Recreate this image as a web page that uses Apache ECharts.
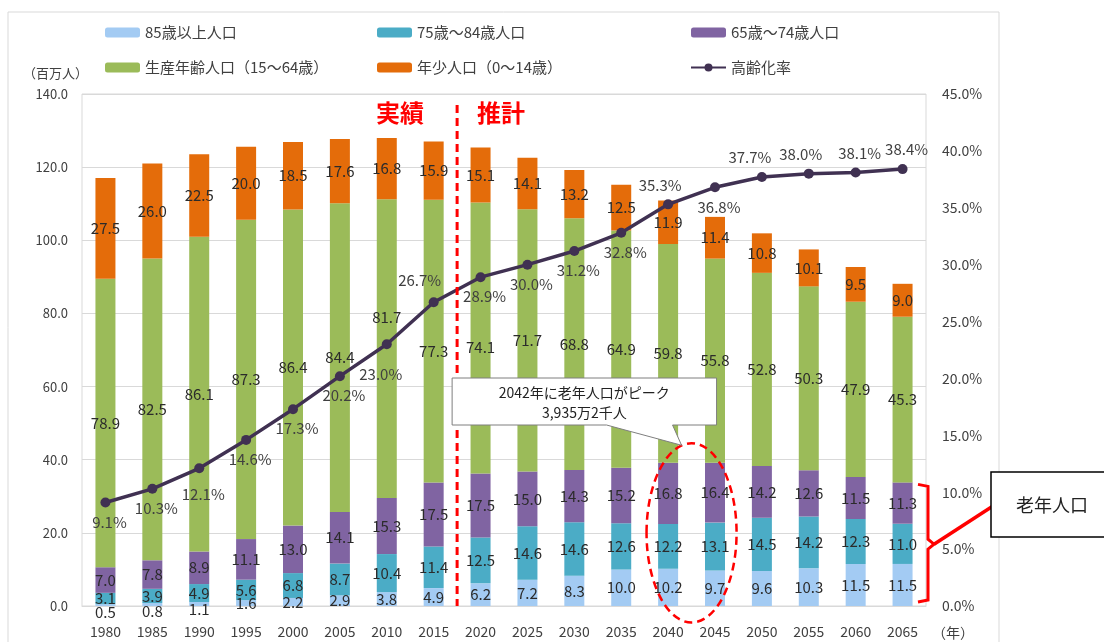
<!DOCTYPE html>
<html>
<head>
<meta charset="utf-8">
<script src="https://cdn.jsdelivr.net/npm/echarts@6/dist/echarts.min.js"></script>
<style>
  html, body { margin: 0; padding: 0; background: #fff; }
  #chart { width: 1104px; height: 642px; }
</style>
</head>
<body>
<div id="chart"></div>
<script>
const years = ['1980', '1985', '1990', '1995', '2000', '2005', '2010', '2015', '2020',
  '2025', '2030', '2035', '2040', '2045', '2050', '2055', '2060', '2065']
const pop85 = [0.5, 0.8, 1.1, 1.6, 2.2, 2.9, 3.8, 4.9, 6.2, 7.2, 8.3, 10.0, 10.2, 9.7, 9.6, 10.3, 11.5, 11.5]
const pop75 = [3.1, 3.9, 4.9, 5.6, 6.8, 8.7, 10.4, 11.4, 12.5, 14.6, 14.6, 12.6, 12.2, 13.1, 14.5, 14.2, 12.3, 11.0]
const pop65 = [7.0, 7.8, 8.9, 11.1, 13.0, 14.1, 15.3, 17.5, 17.5, 15.0, 14.3, 15.2, 16.8, 16.4, 14.2, 12.6, 11.5, 11.3]
const popWork = [78.9, 82.5, 86.1, 87.3, 86.4, 84.4, 81.7, 77.3, 74.1, 71.7, 68.8, 64.9, 59.8, 55.8, 52.8, 50.3, 47.9, 45.3]
const popYoung = [27.5, 26.0, 22.5, 20.0, 18.5, 17.6, 16.8, 15.9, 15.1, 14.1, 13.2, 12.5, 11.9, 11.4, 10.8, 10.1, 9.5, 9.0]
const agingRate = [9.1, 10.3, 12.1, 14.6, 17.3, 20.2, 23.0, 26.7, 28.9, 30.0, 31.2, 32.8, 35.3, 36.8, 37.7, 38.0, 38.1, 38.4]

// label placement tweaks (moved by hand in the original to dodge the line)
const ratePos = ['bottom', 'bottom', 'bottom', 'bottom', 'bottom', 'bottom', 'bottom', 'top', 'bottom',
  'bottom', 'bottom', 'bottom', 'top', 'bottom', 'top', 'top', 'top', 'top']
const rateOffset = { 2: [4, 6], 6: [-6, 10], 7: [-14, -2], 12: [-8, 0], 14: [-12, 0], 15: [-8, 0] }
const workOffset = { 6: [0, -31], 7: [0, 10], 8: [0, 9] }

const FONT = '"Noto Sans CJK JP", "Noto Sans", sans-serif'
const textColor = '#404040'

const chart = echarts.init(document.getElementById('chart'))

function withOffsets(data, offsets) {
  return data.map((v, i) => (offsets[i] ? { value: v, label: { offset: offsets[i] } } : v))
}

function barSeries(name, data, color) {
  return {
    type: 'bar',
    name,
    stack: 'pop',
    barWidth: 20,
    data,
    itemStyle: { color },
    label: {
      show: true,
      position: 'inside',
      color: '#2b2b2b',
      fontSize: 15,
      fontFamily: FONT,
      formatter: (p) => p.value.toFixed(1)
    }
  }
}

const legendBase = {
  orient: 'vertical',
  top: 20,
  itemGap: 20,
  itemWidth: 35,
  itemHeight: 10,
  textStyle: { color: textColor, fontSize: 15, fontFamily: FONT }
}

const option = {
  animation: false,
  textStyle: { fontFamily: FONT },
  legend: [
    { ...legendBase, left: 100, data: ['85歳以上人口', '生産年齢人口（15～64歳）'] },
    { ...legendBase, left: 372, data: ['75歳～84歳人口', '年少人口（0～14歳）'] },
    { ...legendBase, left: 685, data: ['65歳～74歳人口', '高齢化率'] }
  ],
  grid: { left: 82, right: 178, top: 94, bottom: 36, show: true, borderColor: '#d9d9d9', borderWidth: 1 },
  xAxis: {
    type: 'category',
    data: years,
    axisLine: { lineStyle: { color: '#d9d9d9' } },
    axisTick: { show: false },
    axisLabel: { color: textColor, fontSize: 14, margin: 19 }
  },
  yAxis: [
    {
      type: 'value',
      min: 0,
      max: 140,
      interval: 20,
      name: '（百万人）',
      nameLocation: 'end',
      nameGap: 14,
      nameTextStyle: { color: textColor, fontSize: 13, align: 'right', padding: [0, -6, 0, 0] },
      axisLabel: { color: textColor, fontSize: 13, margin: 14, formatter: (v) => v.toFixed(1) },
      splitLine: { lineStyle: { color: '#d9d9d9' } }
    },
    {
      type: 'value',
      min: 0,
      max: 45,
      interval: 5,
      position: 'right',
      axisLabel: { color: textColor, fontSize: 14, margin: 16, formatter: (v) => v.toFixed(1) + '%' },
      splitLine: { show: false }
    }
  ],
  series: [
    barSeries('85歳以上人口', withOffsets(pop85, { 0: [0, 7], 1: [0, 7], 2: [0, 5] }), '#a3cbf3'),
    barSeries('75歳～84歳人口', pop75, '#4bacc6'),
    barSeries('65歳～74歳人口', pop65, '#8064a2'),
    barSeries('生産年齢人口（15～64歳）', withOffsets(popWork, workOffset), '#9bbb59'),
    barSeries('年少人口（0～14歳）', popYoung, '#e46c0a'),
    {
      type: 'line',
      name: '高齢化率',
      yAxisIndex: 1,
      z: 5,
      symbol: 'circle',
      symbolSize: 10,
      lineStyle: { width: 3.5, color: '#403152' },
      itemStyle: { color: '#403152' },
      data: agingRate.map((v, i) => ({
        value: v,
        label: { position: ratePos[i], offset: rateOffset[i] || [4, 0] }
      })),
      label: {
        show: true,
        color: textColor,
        fontSize: 15,
        fontFamily: FONT,
        distance: 7,
        formatter: (p) => p.value.toFixed(1) + '%'
      }
    }
  ]
}

chart.setOption(option)

// annotations placed from the chart's own scales
function px(i, v) {
  return chart.convertToPixel({ xAxisIndex: 0, yAxisIndex: 0 }, [i, v])
}
const band = px(1, 0)[0] - px(0, 0)[0]
const splitX = (px(7, 0)[0] + px(8, 0)[0]) / 2
const [, y0] = px(0, 0)
const [, yTop] = px(0, 137)
const peakX = (px(12, 0)[0] + px(13, 0)[0]) / 2
const [, peakY] = px(0, 20)
const peakRy = y0 - px(0, 24.5)[1]
const lastX = px(17, 0)[0] + band / 2
const elderTop = px(17, pop85[17] + pop75[17] + pop65[17])[1]
const braceMid = (elderTop + y0) / 2

const red = '#ff0000'
const tipX = peakX - 10
const tipY = peakY - peakRy + 2
const boxL = splitX - 5
const boxR = tipX + 35

chart.setOption({
  graphic: [
    { type: 'rect', silent: true, shape: { x: 8, y: 12, width: 991, height: 660 }, style: { fill: 'none', stroke: '#d9d9d9', lineWidth: 1 }, z: -10 },
    { type: 'text', x: lastX + 27, y: y0 + 27, style: { text: '（年）', fill: textColor, font: '14px ' + FONT, align: 'center', verticalAlign: 'middle' } },
    { type: 'line', shape: { x1: splitX, y1: yTop, x2: splitX, y2: y0 }, style: { stroke: red, lineWidth: 3, lineDash: [8, 5] }, z: 10 },
    { type: 'text', x: splitX - 57, y: 113, style: { text: '実績', fill: red, font: 'bold 24px ' + FONT, align: 'center', verticalAlign: 'middle' }, z: 10 },
    { type: 'text', x: splitX + 44, y: 113, style: { text: '推計', fill: red, font: 'bold 24px ' + FONT, align: 'center', verticalAlign: 'middle' }, z: 10 },
    { type: 'ellipse', shape: { cx: peakX, cy: peakY, rx: band * 0.96, ry: peakRy }, style: { fill: 'none', stroke: red, lineWidth: 2.5, lineDash: [8, 5] }, z: 10 },
    {
      type: 'polygon',
      shape: {
        points: [
          [boxL, 378], [boxR, 378], [boxR, 425], [tipX - 9, 425],
          [tipX, tipY], [tipX - 75, 425], [boxL, 425]
        ]
      },
      style: { fill: '#fff', stroke: '#7f7f7f', lineWidth: 1 },
      z: 11
    },
    { type: 'text', x: (boxL + boxR) / 2, y: 393, style: { text: '2042年に老年人口がピーク', fill: '#222', font: '14px ' + FONT, align: 'center', verticalAlign: 'middle' }, z: 12 },
    { type: 'text', x: (boxL + boxR) / 2, y: 413, style: { text: '3,935万2千人', fill: '#222', font: '14px ' + FONT, align: 'center', verticalAlign: 'middle' }, z: 12 },
    {
      type: 'polyline',
      shape: {
        points: [
          [lastX - 8, elderTop + 2], [lastX + 2, elderTop + 4], [lastX + 2, braceMid - 5], [lastX + 8, braceMid],
          [lastX + 2, braceMid + 5], [lastX + 2, y0 - 6], [lastX - 8, y0 - 4]
        ]
      },
      style: { fill: 'none', stroke: red, lineWidth: 3 },
      z: 10
    },
    { type: 'line', shape: { x1: lastX + 8, y1: braceMid, x2: 993, y2: 506 }, style: { stroke: red, lineWidth: 3.5 }, z: 10 },
    { type: 'rect', shape: { x: 991, y: 472, width: 130, height: 65 }, style: { fill: '#fff', stroke: '#000', lineWidth: 1.5 }, z: 11 },
    { type: 'text', x: 1052, y: 505, style: { text: '老年人口', fill: '#222', font: '18px ' + FONT, align: 'center', verticalAlign: 'middle' }, z: 12 }
  ]
})
</script>
</body>
</html>
